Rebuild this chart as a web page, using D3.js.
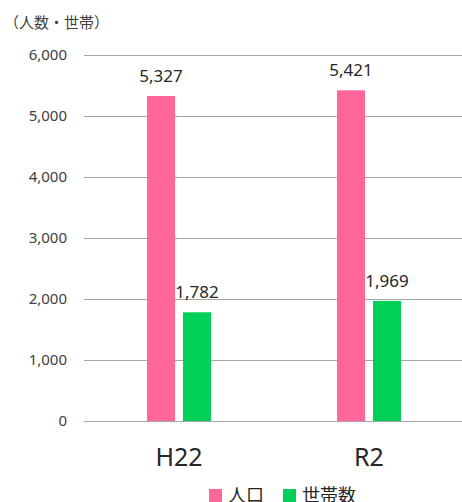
<!DOCTYPE html>
<html>
<head>
<meta charset="utf-8">
<script src="https://cdn.jsdelivr.net/npm/d3@7"></script>
<style>
  body { margin: 0; background: #fff; }
  text { font-family: "Noto Sans", "Noto Sans CJK JP", sans-serif; }
</style>
</head>
<body>
<script>
var categories = ["H22", "R2"];
var seriesNames = ["人口", "世帯数"];
var population = [5327, 5421];
var households = [1782, 1969];
var yTicks = [0, 1000, 2000, 3000, 4000, 5000, 6000];

var colors = ["#ff6699", "#00d057"];
var width = 462, height = 502;
var margin = { top: 55, right: 0, bottom: 81, left: 84 };

var svg = d3.select("body").append("svg")
    .attr("width", width)
    .attr("height", height);

var x = d3.scaleBand()
    .domain(categories)
    .range([margin.left, width + 2]);

var y = d3.scaleLinear()
    .domain([0, 6000])
    .range([height - margin.bottom, margin.top]);

var x1 = d3.scaleBand()
    .domain(seriesNames)
    .range([-32, 32])
    .paddingInner(0.22);

// grid lines
svg.append("g")
    .selectAll("line")
    .data(yTicks)
    .enter().append("line")
    .attr("x1", margin.left)
    .attr("x2", width - margin.right)
    .attr("y1", function (d) { return Math.round(y(d)) + 0.5; })
    .attr("y2", function (d) { return Math.round(y(d)) + 0.5; })
    .attr("stroke", "#a6a6a6")
    .attr("stroke-width", 1);

// y tick labels
svg.append("g")
    .selectAll("text")
    .data(yTicks)
    .enter().append("text")
    .attr("x", 67)
    .attr("y", function (d) { return y(d); })
    .attr("dy", "0.36em")
    .attr("text-anchor", "end")
    .attr("font-size", 15)
    .attr("fill", "#404040")
    .text(d3.format(","));

svg.append("text")
    .attr("x", 4)
    .attr("y", 28)
    .attr("font-size", 15)
    .attr("fill", "#404040")
    .text("（人数・世帯）");

var rows = categories.map(function (c, i) {
    return [
        { cat: c, name: seriesNames[0], value: population[i], color: colors[0] },
        { cat: c, name: seriesNames[1], value: households[i], color: colors[1] }
    ];
});

var groups = svg.append("g")
    .selectAll("g")
    .data(rows)
    .enter().append("g")
    .attr("transform", function (d) {
        return "translate(" + (x(d[0].cat) + x.bandwidth() / 2) + ",0)";
    });

groups.selectAll("rect")
    .data(function (d) { return d; })
    .enter().append("rect")
    .attr("x", function (d) { return x1(d.name); })
    .attr("width", x1.bandwidth())
    .attr("y", function (d) { return y(d.value); })
    .attr("height", function (d) { return y(0) - y(d.value); })
    .attr("fill", function (d) { return d.color; });

groups.selectAll("text")
    .data(function (d) { return d; })
    .enter().append("text")
    .attr("x", function (d) { return x1(d.name) + x1.bandwidth() / 2; })
    .attr("y", function (d) { return y(d.value) - 14; })
    .attr("text-anchor", "middle")
    .attr("font-size", 17)
    .attr("fill", "#262626")
    .text(function (d) { return d3.format(",")(d.value); });

// category labels
svg.append("g")
    .selectAll("text")
    .data(categories)
    .enter().append("text")
    .attr("x", function (d) { return x(d) + x.bandwidth() / 2; })
    .attr("y", 466)
    .attr("text-anchor", "middle")
    .attr("font-size", 25)
    .attr("fill", "#262626")
    .text(function (d) { return d; });

// legend (sits at the bottom edge, partly clipped as in the original)
var legendX = [209, 283];
var legend = svg.append("g")
    .selectAll("g")
    .data(seriesNames)
    .enter().append("g")
    .attr("transform", function (d, i) { return "translate(" + legendX[i] + ",489)"; });

legend.append("rect")
    .attr("width", 13)
    .attr("height", 13)
    .attr("fill", function (d, i) { return colors[i]; });

legend.append("text")
    .attr("x", 19)
    .attr("y", 13)
    .attr("font-size", 18)
    .attr("fill", "#262626")
    .text(function (d) { return d; });
</script>
</body>
</html>
